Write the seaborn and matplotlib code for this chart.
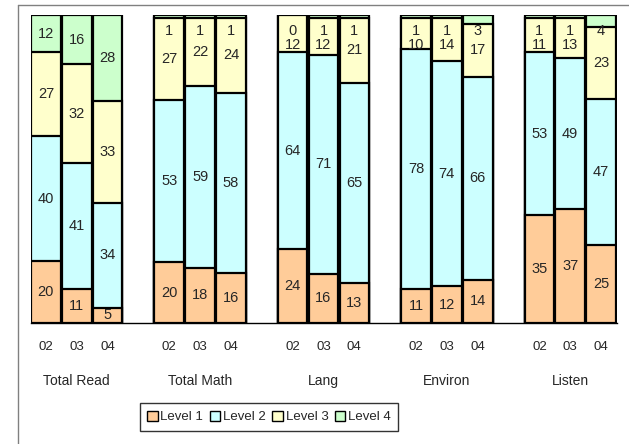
import pandas as pd
import numpy as np
import matplotlib.pyplot as plt
import seaborn as sns
from matplotlib.patches import Patch
from matplotlib.lines import Line2D

sns.set_style('white')
plt.rcParams['font.family'] = ['Liberation Sans', 'DejaVu Sans']

subjects = ['Total Read', 'Total Math', 'Lang', 'Environ', 'Listen']
years = ['02', '03', '04']
levels = ['Level 1', 'Level 2', 'Level 3', 'Level 4']
colors = ['#FFCC99', '#CCFFFF', '#FFFFCC', '#CCFFCC']

level1 = [20, 11, 5, 20, 18, 16, 24, 16, 13, 11, 12, 14, 35, 37, 25]
level2 = [40, 41, 34, 53, 59, 58, 64, 71, 65, 78, 74, 66, 53, 49, 47]
level3 = [27, 32, 33, 27, 22, 24, 12, 12, 21, 10, 14, 17, 11, 13, 23]
level4 = [12, 16, 28, 1, 1, 1, 0, 1, 1, 1, 1, 3, 1, 1, 4]

# slot order with empty slots between the subject groups
order = []
bar_keys = []
for i, s in enumerate(subjects):
    for y in years:
        order.append(f'{s} {y}')
        bar_keys.append(f'{s} {y}')
    if i < len(subjects) - 1:
        order.append(' ' * (i + 1))

df = pd.DataFrame({'slot': bar_keys, 'Level 1': level1, 'Level 2': level2,
                   'Level 3': level3, 'Level 4': level4})
total = df[levels].sum(axis=1)
pct = df[levels].div(total, axis=0) * 100
cum = pct.cumsum(axis=1)

fig = plt.figure(figsize=(6.29, 4.44), dpi=100)
ax = fig.add_axes([30.5 / 629, 1 - 323 / 444, (616.5 - 30.5) / 629, (323 - 15) / 444])

# stacked bars: draw cumulative heights from the top level down
for lev, col in reversed(list(zip(levels, colors))):
    d = pd.DataFrame({'slot': bar_keys, 'h': cum[lev].values})
    sns.barplot(data=d, x='slot', y='h', order=order, color=col, saturation=1,
                edgecolor='black', linewidth=1.6, width=0.96, errorbar=None, ax=ax)

pos = {k: order.index(k) for k in bar_keys}
px_per_unit = 308 / 100
for i, k in enumerate(bar_keys):
    x = pos[k]
    bottoms = [0] + list(cum.iloc[i].values[:-1])
    tops = list(cum.iloc[i].values)
    small4 = df['Level 4'].iloc[i] < 5
    y4 = 100 - 16 / px_per_unit
    for j, lev in enumerate(levels):
        yc = (bottoms[j] + tops[j]) / 2
        if j == 3 and small4:
            yc = y4
        if j == 2 and small4:
            yc = min(yc, y4 - 14 / px_per_unit)
        ax.text(x, yc, str(df[lev].iloc[i]), ha='center', va='center', fontsize=10.5)

ax.set_xlim(-0.5, len(order) - 0.5)
ax.set_ylim(0, 100)
ax.set_ylabel('')
ax.set_xlabel('')
ax.set_yticks([])
for sp in ['left', 'right', 'top']:
    ax.spines[sp].set_visible(False)
ax.spines['bottom'].set_color('black')
ax.spines['bottom'].set_linewidth(1)

ax.set_xticks([pos[k] for k in bar_keys])
ax.set_xticklabels([k.split()[-1] for k in bar_keys], fontsize=9.5)
ax.set_xticks(np.arange(-0.5, len(order)), minor=True)
ax.tick_params(axis='x', which='major', length=0, pad=13)
ax.tick_params(axis='x', which='minor', length=4, width=1, color='#808080', direction='out')

for i, s in enumerate(subjects):
    xc = np.mean([pos[f'{s} {y}'] for y in years])
    ax.text(xc, -(381 - 323) / 308, s, ha='center', va='center', fontsize=10,
            transform=ax.get_xaxis_transform())

handles = [Patch(facecolor=c, edgecolor='black', linewidth=1) for c in colors]
leg = fig.legend(handles, levels, loc='center', bbox_to_anchor=(269 / 629, 1 - 417 / 444),
                 ncol=4, fontsize=9.5, frameon=True, fancybox=False, edgecolor='black',
                 handlelength=0.8, handleheight=0.8, handletextpad=0.2, columnspacing=0.5,
                 borderpad=0.55)
leg.get_frame().set_linewidth(1)

# outer chart frame (cropped on the right and bottom)
fig.add_artist(Line2D([18 / 629, 18 / 629], [0, 1 - 5 / 444], color='#808080', lw=1))
fig.add_artist(Line2D([18 / 629, 1], [1 - 5 / 444, 1 - 5 / 444], color='#808080', lw=1))

fig.savefig('out.png', dpi=100)
